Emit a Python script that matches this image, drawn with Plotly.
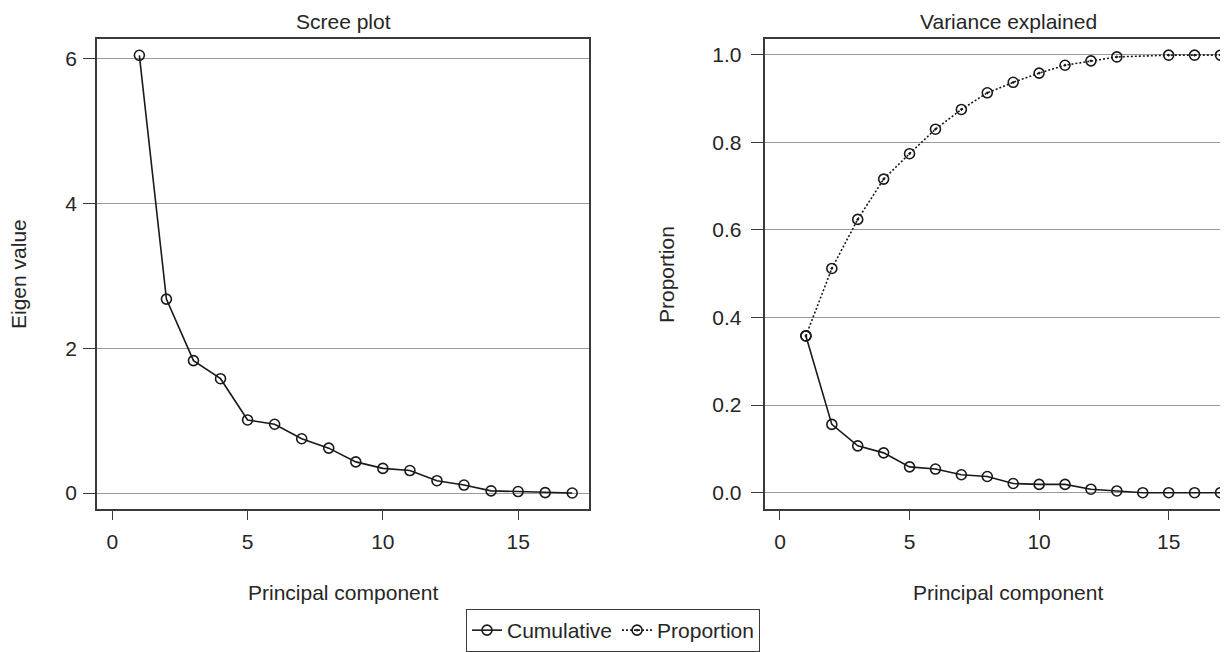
import plotly.graph_objects as go

# ---- data ----
components = list(range(1, 18))
eigenvalues = [6.05, 2.68, 1.83, 1.58, 1.01, 0.95, 0.75, 0.62, 0.43, 0.34,
               0.31, 0.17, 0.11, 0.03, 0.02, 0.005, 0.0]
# solid series (legend "Cumulative")
solid_vals = [0.358, 0.156, 0.107, 0.091, 0.059, 0.054, 0.041, 0.037, 0.021,
              0.019, 0.019, 0.008, 0.004, 0.0, 0.0, 0.0, 0.0]
# dotted series (legend "Proportion"); component 14 not drawn
dotted_vals = [0.358, 0.512, 0.624, 0.716, 0.774, 0.830, 0.875, 0.913, 0.937,
               0.958, 0.976, 0.986, 0.995, None, 0.999, 0.999, 0.999]

left_title = "Scree plot"
right_title = "Variance explained"
x_title = "Principal component"
left_ytitle = "Eigen value"
right_ytitle = "Proportion"

# page body has an 8px margin; figure is sized to fit the 1228x652 window
OFF = 8
W, H = 1228 - OFF, 652 - OFF
FONT = "Liberation Sans, Arial, sans-serif"
FS = 21
INK = "#1a1a1a"
TXT = "#262626"
GRID = "#9a9a9a"
AX = "#3a3a3a"

def px_x(p):
    return (p - OFF) / W

def px_y(p):
    return (H - (p - OFF)) / H

fig = go.Figure()

fig.add_trace(go.Scatter(
    x=components, y=eigenvalues, mode="lines+markers",
    line=dict(color=INK, width=1.6),
    marker=dict(symbol="circle-open", size=10, color=INK, line=dict(width=1.6, color=INK)),
    showlegend=False, xaxis="x", yaxis="y"))

fig.add_trace(go.Scatter(
    x=components, y=solid_vals, mode="lines+markers", name="Cumulative",
    line=dict(color=INK, width=1.6),
    marker=dict(symbol="circle-open", size=10, color=INK, line=dict(width=1.6, color=INK)),
    xaxis="x2", yaxis="y2"))

fig.add_trace(go.Scatter(
    x=components, y=dotted_vals, mode="lines+markers", name="Proportion",
    connectgaps=True,
    line=dict(color=INK, width=1.6, dash="2px,2px"),
    marker=dict(symbol="circle-open-dot", size=10, color=INK, line=dict(width=1.6, color=INK)),
    xaxis="x2", yaxis="y2"))

top, bottom = 39.3, 508.7
common_x = dict(showgrid=False, zeroline=False, showline=True, linecolor=AX, linewidth=1.5,
                mirror=True, ticks="outside", ticklen=10, tickwidth=1.3, tickcolor=AX,
                tickfont=dict(family=FONT, size=FS, color=TXT), automargin=False,
                tickvals=[0, 5, 10, 15], ticklabelstandoff=3)
common_y = dict(showgrid=True, gridcolor=GRID, gridwidth=1.2, zeroline=False, showline=True,
                linecolor=AX, linewidth=1.5, ticks="outside", ticklen=12, tickwidth=1.3,
                tickcolor=AX, tickfont=dict(family=FONT, size=FS, color=TXT), automargin=False)

fig.update_layout(
    template="none",
    width=W, height=H, margin=dict(l=0, r=0, t=0, b=0, autoexpand=False),
    paper_bgcolor="white", plot_bgcolor="white",
    font=dict(family=FONT, size=FS, color=TXT),
    xaxis=dict(common_x, domain=[px_x(97), px_x(589)], range=[-0.566, 17.62], anchor="y"),
    yaxis=dict(common_y, domain=[px_y(bottom), px_y(top)], range=[-0.217, 6.271],
               tickvals=[0, 2, 4, 6], mirror=True, anchor="x", ticklabelstandoff=2),
    xaxis2=dict(common_x, domain=[px_x(764.5), 1.0], range=[-0.598, 17.29], anchor="y2"),
    yaxis2=dict(common_y, domain=[px_y(bottom), px_y(top)], range=[-0.0365, 1.0352],
                tickvals=[0, 0.2, 0.4, 0.6, 0.8, 1.0], ticktext=["0.0", "0.2", "0.4", "0.6", "0.8", "1.0"],
                mirror=False, anchor="x2", ticklabelstandoff=5),
    legend=dict(orientation="h", x=px_x(613), xanchor="center", y=0.0, yanchor="bottom",
                bordercolor=AX, borderwidth=1, bgcolor="white",
                font=dict(family=FONT, size=FS, color=TXT),
                tracegroupgap=0, itemwidth=30),
    showlegend=True,
)

ann = [
    dict(text=left_title, x=px_x(343), y=px_y(22)),
    dict(text=right_title, x=px_x(1008), y=px_y(22)),
    dict(text=x_title, x=px_x(343), y=px_y(592)),
    dict(text=x_title, x=px_x(1008), y=px_y(592)),
    dict(text=left_ytitle, x=px_x(19), y=px_y(274), textangle=-90),
    dict(text=right_ytitle, x=px_x(667), y=px_y(274), textangle=-90),
]
for a in ann:
    fig.add_annotation(xref="paper", yref="paper", xanchor="center", yanchor="middle",
                       showarrow=False, font=dict(family=FONT, size=FS, color=TXT), **a)

fig.write_html("out.html")
